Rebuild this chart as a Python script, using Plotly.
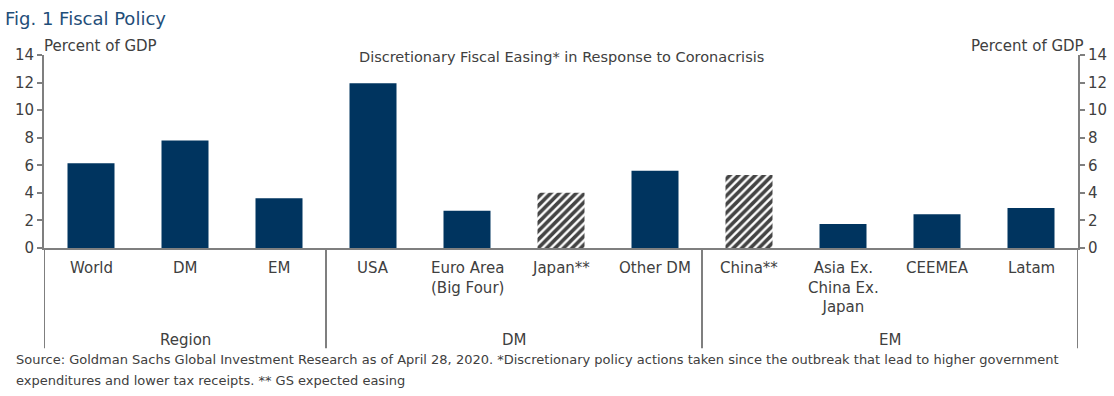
import plotly.graph_objects as go

categories = ["World", "DM", "EM", "USA", "Euro Area<br>(Big Four)", "Japan**",
              "Other DM", "China**", "Asia Ex.<br>China Ex.<br>Japan", "CEEMEA", "Latam"]
values = [6.15, 7.8, 3.6, 11.95, 2.7, 4.0, 5.6, 5.3, 1.75, 2.45, 2.9]
expected = [False, False, False, False, False, True, False, True, False, False, False]
groups = ["Region", "DM", "EM"]
group_sizes = [3, 4, 4]
y_ticks = [0, 2, 4, 6, 8, 10, 12, 14]
footnotes = ["Source: Goldman Sachs Global Investment Research as of April 28, 2020. "
             "*Discretionary policy actions taken since the outbreak that lead to higher government",
             "expenditures and lower tax receipts. ** GS expected easing"]

NAVY = "#00345F"
GREY = "#7f7f7f"
TXT = "#404040"
FONT = "DejaVu Sans"

x = list(range(len(categories)))
fig = go.Figure()
fig.add_trace(go.Bar(
    x=x, y=values, width=0.5,
    marker=dict(
        color=["white" if e else NAVY for e in expected],
        line=dict(width=0),
        pattern=dict(shape=["/" if e else "" for e in expected],
                     fgcolor=NAVY, bgcolor="white", fgopacity=1, size=6, solidity=0.6),
    ),
    showlegend=False, hoverinfo="skip",
))
# invisible trace for right axis
fig.add_trace(go.Scatter(x=[x[0]], y=[values[0]], yaxis="y2", mode="markers",
                         marker=dict(opacity=0), showlegend=False, hoverinfo="skip"))

axis_common = dict(range=[0, 14], tickvals=y_ticks, showgrid=False, zeroline=False,
                   showline=True, linecolor=GREY, linewidth=2, ticks="outside",
                   ticklen=5, tickcolor=GREY, tickwidth=2, automargin=False,
                   tickfont=dict(family=FONT, size=15, color=TXT))
fig.update_layout(
    width=1114, height=396,
    margin=dict(l=44, r=36, t=55, b=148, autoexpand=False),
    paper_bgcolor="white", plot_bgcolor="white",
    xaxis=dict(range=[-0.5, len(categories) - 0.5], showgrid=False, zeroline=False,
               showline=True, linecolor=GREY, linewidth=2, showticklabels=False,
               ticks="", automargin=False),
    yaxis=dict(**axis_common, side="left"),
    yaxis2=dict(**axis_common, side="right", overlaying="y"),
    bargap=0.5,
)

# category labels
for i, c in enumerate(categories):
    fig.add_annotation(x=i, y=0, xref="x", yref="paper", text=c, showarrow=False,
                       yanchor="top", yshift=-9, align="center",
                       font=dict(family=FONT, size=15, color=TXT))

# group labels and dividers
start = -0.5
bottom = -0.52
for g, n in zip(groups, group_sizes):
    end = start + n
    fig.add_annotation(x=(start + end) / 2, y=bottom, xref="x", yref="paper", text=g,
                       showarrow=False, yanchor="bottom", yshift=-3,
                       font=dict(family=FONT, size=15, color=TXT))
    start = end
divs = [-0.5]
acc = -0.5
for n in group_sizes:
    acc += n
    divs.append(acc)
for d in divs:
    fig.add_shape(type="line", xref="x", yref="paper", x0=d, x1=d, y0=0, y1=bottom,
                  line=dict(color=GREY, width=2))

# titles
fig.add_annotation(x=0, y=1, xref="paper", yref="paper", xanchor="left", yanchor="middle",
                   text="Fig. 1 Fiscal Policy", showarrow=False, xshift=-41, yshift=37,
                   font=dict(family=FONT, size=18, color="#1F4E79"))
fig.add_annotation(x=0.5, y=1, xref="paper", yref="paper", xanchor="center", yanchor="middle",
                   text="Discretionary Fiscal Easing* in Response to Coronacrisis",
                   showarrow=False, yshift=-2,
                   font=dict(family=FONT, size=14.5, color=TXT))
fig.add_annotation(x=0, y=1, xref="paper", yref="paper", xanchor="left", yanchor="middle",
                   text="Percent of GDP", showarrow=False, xshift=-2, yshift=9,
                   font=dict(family=FONT, size=15, color=TXT))
fig.add_annotation(x=1, y=1, xref="paper", yref="paper", xanchor="right", yanchor="middle",
                   text="Percent of GDP", showarrow=False, xshift=8, yshift=9,
                   font=dict(family=FONT, size=15, color=TXT))
for k, line in enumerate(footnotes):
    fig.add_annotation(x=0, y=0, xref="paper", yref="paper", xanchor="left", yanchor="middle",
                       text=line, showarrow=False, align="left", xshift=-30,
                       yshift=-111 - 21 * k,
                       font=dict(family=FONT, size=13, color=TXT))

fig.write_html("out.html", config={"displayModeBar": False},
               post_script="document.body.style.margin='0';")
